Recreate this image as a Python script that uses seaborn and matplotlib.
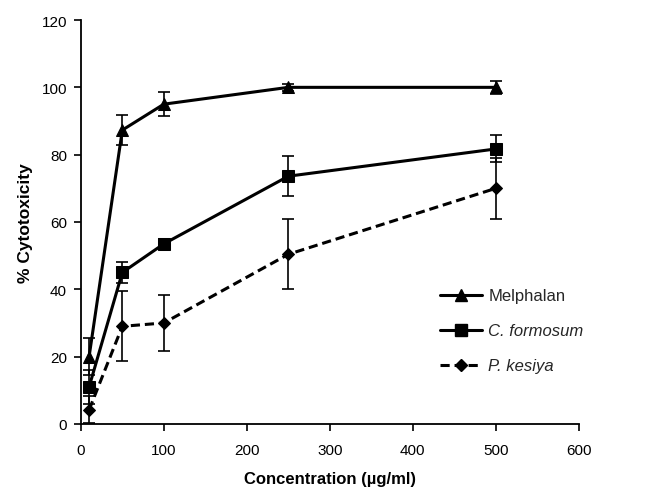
import numpy as np
import pandas as pd
import matplotlib
matplotlib.use("Agg")
import matplotlib.pyplot as plt
import seaborn as sns

concentration = [10, 50, 100, 250, 500]

melphalan = [20.0, 87.3, 95.0, 100.0, 100.0]
melphalan_err = [5.5, 4.5, 3.5, 1.0, 2.0]

c_formosum = [11.0, 45.0, 53.5, 73.6, 81.7]
c_formosum_err = [5.0, 3.0, 1.5, 6.0, 4.0]

p_kesiya = [4.2, 29.0, 30.0, 50.4, 70.0]
p_kesiya_err = [4.0, 10.4, 8.2, 10.4, 9.0]

series_names = ["Melphalan", "C. formosum", "P. kesiya"]

sns.set_theme(style="ticks")
plt.rcParams["font.family"] = ["Liberation Sans", "DejaVu Sans"]

fig = plt.figure(figsize=(6.57, 4.89), dpi=100)
ax = fig.add_axes([0.123, 0.131, 0.758, 0.826])

styles = [
    dict(marker="^", ms=8, ls="-", italic=False),
    dict(marker="s", ms=8, ls="-", italic=True),
    dict(marker="D", ms=6, ls=(0, (3, 1.6)), italic=True),
]
values = [melphalan, c_formosum, p_kesiya]
errors = [melphalan_err, c_formosum_err, p_kesiya_err]

handles = []
for name, vals, errs, st in zip(series_names, values, errors, styles):
    df = pd.DataFrame({"conc": concentration, "cyto": vals})
    ax.errorbar(concentration, vals, yerr=errs, fmt="none", ecolor="black",
                elinewidth=1.2, capsize=4, capthick=1.2, zorder=2)
    sns.lineplot(data=df, x="conc", y="cyto", ax=ax, color="black",
                 linewidth=2.2, marker=st["marker"], markersize=st["ms"],
                 markeredgecolor="black", markerfacecolor="black",
                 linestyle=st["ls"], zorder=3)
    h, = ax.plot([], [], color="black", linewidth=2.2, linestyle=st["ls"],
                 marker=st["marker"], markersize=st["ms"])
    handles.append(h)

ax.set_xlim(0, 600)
ax.set_ylim(0, 120)
ax.set_xticks(range(0, 601, 100))
ax.set_yticks(range(0, 121, 20))
ax.tick_params(axis="both", direction="out", length=5, width=1.2,
               labelsize=11, color="black", labelcolor="black")
ax.tick_params(axis="x", pad=9)
ax.tick_params(axis="y", pad=5)
for side in ["top", "right"]:
    ax.spines[side].set_visible(False)
for side in ["left", "bottom"]:
    ax.spines[side].set_color("black")
    ax.spines[side].set_linewidth(1.3)

ax.set_xlabel("Concentration (µg/ml)", fontsize=12, fontweight="bold",
              labelpad=10, color="black")
ax.set_ylabel("% Cytotoxicity", fontsize=12.5, fontweight="bold",
              labelpad=6, color="black")

leg = ax.legend(handles, series_names, loc="upper left",
                bbox_to_anchor=(0.708, 0.352), frameon=False, fontsize=12,
                handlelength=2.5, labelspacing=1.2, handletextpad=0.4,
                borderaxespad=0.0)
for txt, st in zip(leg.get_texts(), styles):
    if st["italic"]:
        txt.set_fontstyle("italic")

fig.savefig("out.png", dpi=100)
